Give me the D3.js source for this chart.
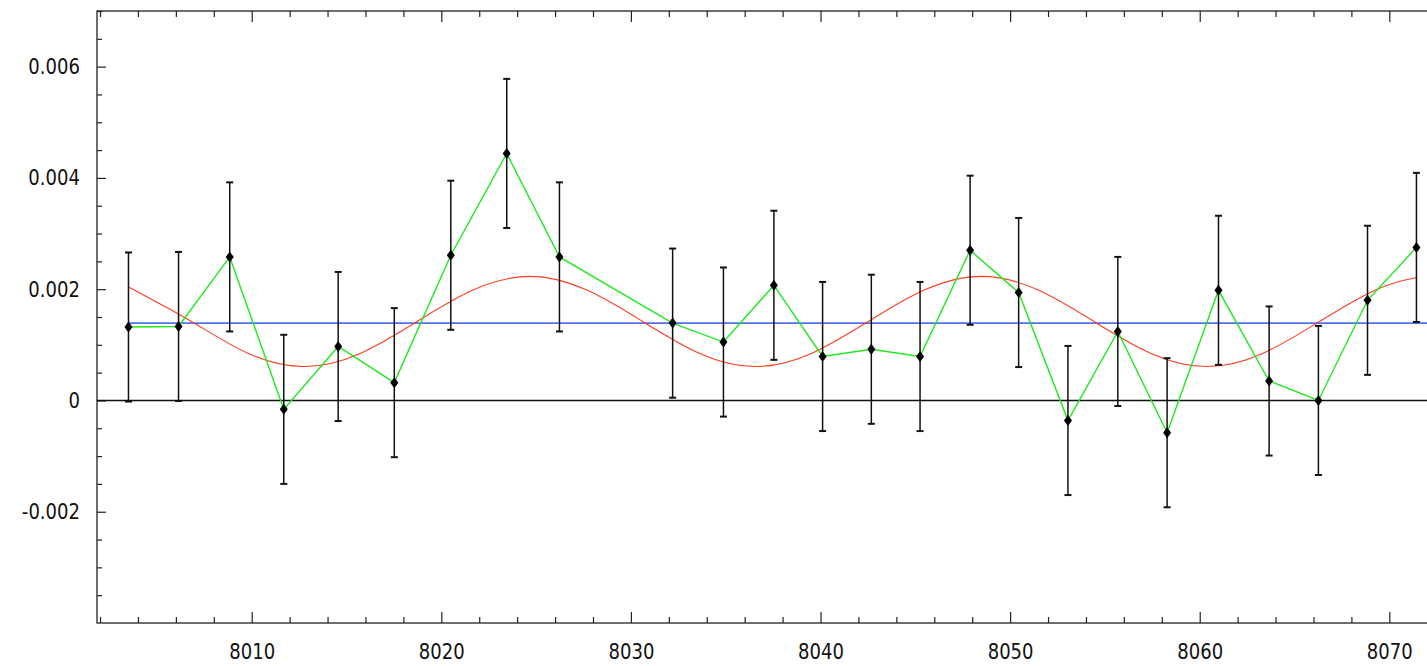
<!DOCTYPE html>
<html>
<head>
<meta charset="utf-8">
<script src="https://cdn.jsdelivr.net/npm/d3@7"></script>
<style>
  body { margin: 0; background: #fff; }
  svg { display: block; }
  .tick text { font-family: "DejaVu Sans", sans-serif; font-size: 22px; fill: #111; }
</style>
</head>
<body>
<svg id="chart" width="1427" height="666"></svg>
<script>
'use strict';

// observed points
const obsX = [8003.50, 8006.14, 8008.84, 8011.69, 8014.56, 8017.52, 8020.50, 8023.45, 8026.23,
  8032.20, 8034.88, 8037.54, 8040.11, 8042.68, 8045.25, 8047.89, 8050.45, 8053.05,
  8055.68, 8058.28, 8060.99, 8063.66, 8066.26, 8068.85, 8071.43];
const obsY = [0.00132, 0.00133, 0.00258, -0.00016, 0.00097, 0.00032, 0.00261, 0.00444, 0.00258,
  0.00139, 0.00105, 0.00207, 0.00079, 0.00092, 0.00079, 0.00270, 0.00194, -0.00036,
  0.00124, -0.00058, 0.00198, 0.00035, 0.00000, 0.00180, 0.00275];
const obsErr = [0.00134, 0.00134, 0.00134, 0.00134, 0.00134, 0.00134, 0.00134, 0.00134, 0.00134,
  0.00134, 0.00134, 0.00134, 0.00134, 0.00134, 0.00134, 0.00134, 0.00134, 0.00134,
  0.00134, 0.00134, 0.00134, 0.00134, 0.00134, 0.00134, 0.00134];

// fitted curve (red)
const fitX = [8003.50, 8006.82, 8009.79, 8012.77, 8015.75, 8018.72, 8021.70, 8024.67,
  8027.65, 8030.62, 8033.60, 8036.57, 8039.55, 8042.52, 8045.50, 8048.47, 8051.45,
  8054.42, 8057.40, 8060.37, 8063.35, 8066.32, 8069.30, 8071.44];
const fitY = [0.00204, 0.00142, 0.00085, 0.00061, 0.00085, 0.00142, 0.00199, 0.00223,
  0.00199, 0.00142, 0.00085, 0.00061, 0.00085, 0.00142, 0.00199, 0.00223, 0.00199,
  0.00142, 0.00085, 0.00061, 0.00085, 0.00142, 0.00199, 0.00221];

// constant level (blue)
const levelX = [8003.50, 8072.04];
const levelY = [0.00139, 0.00139];

const xMajor = [8010, 8020, 8030, 8040, 8050, 8060, 8070];
const xTickLabels = ["8010", "8020", "8030", "8040", "8050", "8060", "8070"];
const xMinor = [8002, 8004, 8006, 8008, 8012, 8014, 8016, 8018, 8022, 8024, 8026, 8028,
  8032, 8034, 8036, 8038, 8042, 8044, 8046, 8048, 8052, 8054, 8056, 8058,
  8062, 8064, 8066, 8068, 8072];
const yMajor = [-0.002, 0, 0.002, 0.004, 0.006];
const yTickLabels = ["-0.002", "0", "0.002", "0.004", "0.006"];
const yMinor = [-0.0035, -0.003, -0.0025, -0.0015, -0.001, -0.0005, 0.0005, 0.001, 0.0015,
  0.0025, 0.003, 0.0035, 0.0045, 0.005, 0.0055, 0.0065, 0.007];

const svg = d3.select("#chart");
const plotLeft = 97, plotRight = 1428, plotTop = 11, plotBottom = 623;
const textScale = 0.82;

const x = d3.scaleLinear().domain([8001.84, 8072.04]).range([plotLeft, plotRight]);
const y = d3.scaleLinear().domain([-0.004, 0.007]).range([plotBottom, plotTop]);

svg.append("defs").append("clipPath").attr("id", "plot")
  .append("rect").attr("x", plotLeft).attr("y", plotTop)
  .attr("width", plotRight - plotLeft).attr("height", plotBottom - plotTop);

const dropDomain = g => g.select(".domain").remove();
const tickStyle = g => g.selectAll(".tick line").attr("stroke", "#222").attr("stroke-width", 1.2);

// bottom axis
svg.append("g")
  .attr("transform", `translate(0,${plotBottom})`)
  .call(d3.axisBottom(x).tickValues(xMajor).tickSize(-11).tickPadding(20)
    .tickFormat((d, i) => xTickLabels[i]))
  .call(dropDomain).call(tickStyle)
  .call(g => g.selectAll("text").attr("transform", `scale(${textScale},1)`));
svg.append("g")
  .attr("transform", `translate(0,${plotBottom})`)
  .call(d3.axisBottom(x).tickValues(xMinor).tickSize(-6).tickFormat(""))
  .call(dropDomain).call(tickStyle);

// top axis (ticks only)
svg.append("g")
  .attr("transform", `translate(0,${plotTop})`)
  .call(d3.axisTop(x).tickValues(xMajor).tickSize(-11).tickFormat(""))
  .call(dropDomain).call(tickStyle);
svg.append("g")
  .attr("transform", `translate(0,${plotTop})`)
  .call(d3.axisTop(x).tickValues(xMinor).tickSize(-6).tickFormat(""))
  .call(dropDomain).call(tickStyle);

// left axis
svg.append("g")
  .attr("transform", `translate(${plotLeft},0)`)
  .call(d3.axisLeft(y).tickValues(yMajor).tickSize(-9).tickPadding(17)
    .tickFormat((d, i) => yTickLabels[i]))
  .call(dropDomain).call(tickStyle)
  .call(g => g.selectAll("text")
    .attr("x", -17 / textScale)
    .attr("transform", `scale(${textScale},1)`));
svg.append("g")
  .attr("transform", `translate(${plotLeft},0)`)
  .call(d3.axisLeft(y).tickValues(yMinor).tickSize(-5).tickFormat(""))
  .call(dropDomain).call(tickStyle);

// frame
svg.append("rect")
  .attr("x", plotLeft).attr("y", plotTop)
  .attr("width", plotRight - plotLeft).attr("height", plotBottom - plotTop)
  .attr("fill", "none").attr("stroke", "#222").attr("stroke-width", 1.3);

const plot = svg.append("g").attr("clip-path", "url(#plot)");

// zero line
plot.append("line")
  .attr("x1", plotLeft).attr("x2", plotRight)
  .attr("y1", y(0)).attr("y2", y(0))
  .attr("stroke", "#111").attr("stroke-width", 1.6);

const line = d3.line().x(d => x(d[0])).y(d => y(d[1]));

plot.append("path")
  .datum(d3.zip(levelX, levelY))
  .attr("d", line)
  .attr("fill", "none").attr("stroke", "#5271ee").attr("stroke-width", 1.6);

plot.append("path")
  .datum(d3.zip(fitX, fitY))
  .attr("d", d3.line().x(d => x(d[0])).y(d => y(d[1])).curve(d3.curveNatural))
  .attr("fill", "none").attr("stroke", "#ff3c1c").attr("stroke-width", 1.1);

plot.append("path")
  .datum(d3.zip(obsX, obsY))
  .attr("d", line)
  .attr("fill", "none").attr("stroke", "#1ee81e").attr("stroke-width", 1.4);

const pts = d3.zip(obsX, obsY, obsErr);

// error bars
const bars = plot.append("g").selectAll("g").data(pts).join("g")
  .attr("stroke", "#111");
bars.append("line")
  .attr("x1", d => x(d[0])).attr("x2", d => x(d[0]))
  .attr("y1", d => y(d[1] - d[2])).attr("y2", d => y(d[1] + d[2]))
  .attr("stroke-width", 1.5);
bars.append("line")
  .attr("x1", d => x(d[0]) - 3.5).attr("x2", d => x(d[0]) + 3.5)
  .attr("y1", d => y(d[1] + d[2])).attr("y2", d => y(d[1] + d[2]))
  .attr("stroke-width", 2);
bars.append("line")
  .attr("x1", d => x(d[0]) - 3.5).attr("x2", d => x(d[0]) + 3.5)
  .attr("y1", d => y(d[1] - d[2])).attr("y2", d => y(d[1] - d[2]))
  .attr("stroke-width", 2);

// diamond markers
plot.append("g").selectAll("path").data(pts).join("path")
  .attr("transform", d => `translate(${x(d[0])},${y(d[1])})`)
  .attr("d", "M0,-5.5L4,0L0,5.5L-4,0Z")
  .attr("fill", "#000");
</script>
</body>
</html>
